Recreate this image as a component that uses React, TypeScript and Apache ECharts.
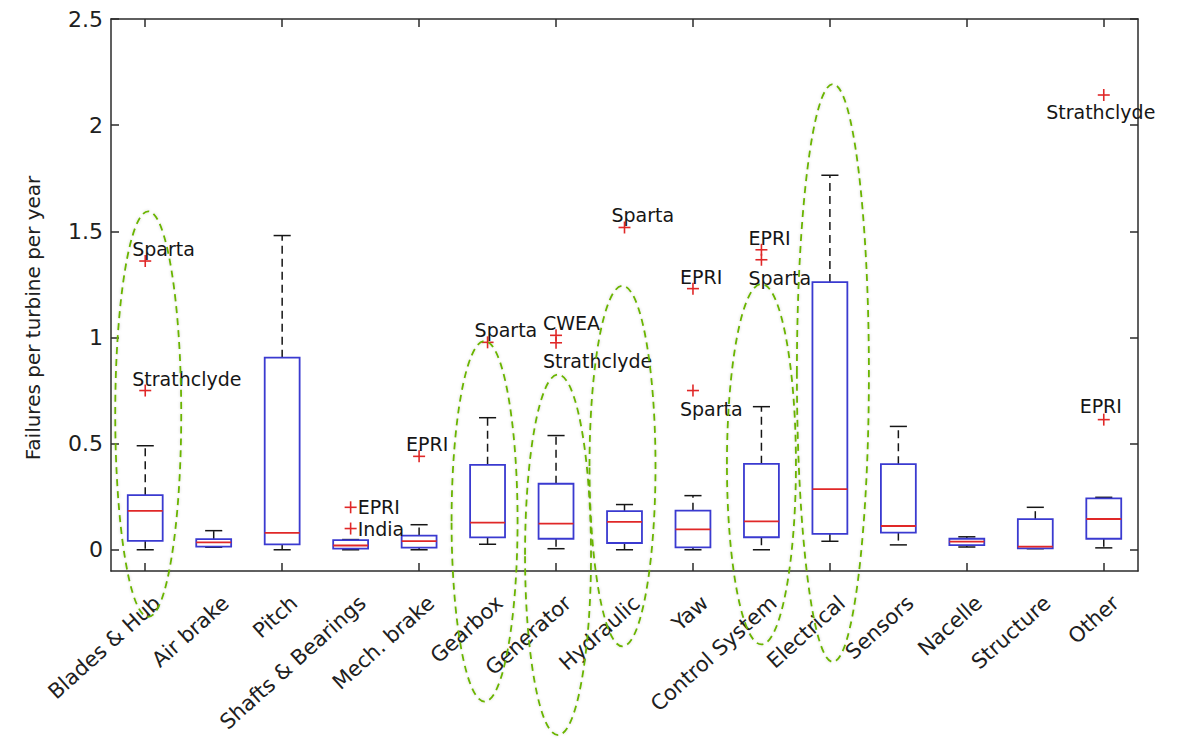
import React, { useEffect, useRef } from 'react';
import * as echarts from 'echarts';

// ---------- data ----------
const categories = [
  'Blades & Hub', 'Air brake', 'Pitch', 'Shafts & Bearings', 'Mech. brake',
  'Gearbox', 'Generator', 'Hydraulic', 'Yaw', 'Control System',
  'Electrical', 'Sensors', 'Nacelle', 'Structure', 'Other',
];

const boxMin = [0.0, 0.012, 0.0, 0.0, 0.0, 0.026, 0.005, 0.0, 0.0, 0.0, 0.04, 0.023, 0.013, 0.005, 0.009];
const boxQ1 = [0.042, 0.015, 0.025, 0.005, 0.01, 0.058, 0.052, 0.032, 0.011, 0.059, 0.075, 0.081, 0.022, 0.007, 0.052];
const boxMedian = [0.183, 0.035, 0.08, 0.02, 0.041, 0.128, 0.123, 0.131, 0.096, 0.134, 0.286, 0.112, 0.038, 0.015, 0.145];
const boxQ3 = [0.257, 0.05, 0.905, 0.045, 0.067, 0.4, 0.311, 0.182, 0.184, 0.405, 1.261, 0.403, 0.052, 0.144, 0.242];
const boxMax = [0.49, 0.09, 1.48, 0.048, 0.118, 0.622, 0.538, 0.213, 0.255, 0.674, 1.764, 0.581, 0.061, 0.2, 0.247];

const outlierCat = [0, 0, 3, 3, 4, 5, 6, 6, 7, 8, 8, 9, 9, 14, 14];
const outlierVal = [1.36, 0.75, 0.2, 0.1, 0.44, 0.977, 1.01, 0.975, 1.518, 1.23, 0.75, 1.413, 1.366, 2.142, 0.613];
const outlierName = ['Sparta', 'Strathclyde', 'EPRI', 'India', 'EPRI', 'Sparta', 'CWEA', 'Strathclyde', 'Sparta', 'EPRI', 'Sparta', 'EPRI', 'Sparta', 'Strathclyde', 'EPRI'];
const outlierSide = ['above', 'above', 'right', 'right', 'above', 'above', 'above', 'below', 'above', 'above', 'below', 'above', 'below', 'below-center', 'above-center'];

const yMin = -0.1;
const yMax = 2.5;
const yTicks = [0, 0.5, 1, 1.5, 2, 2.5];
const yAxisTitle = 'Failures per turbine per year';

// highlighted groups (dashed ellipses): category, top value, bottom value
const ellipseCat = [0, 5, 6, 7, 9, 10];
const ellipseTop = [1.594, 0.983, 0.825, 1.243, 1.252, 2.193];
const ellipseBottom = [-0.316, -0.715, -0.873, -0.455, -0.446, -0.528];

// ---------- styles ----------
const FONT = '"DejaVu Sans", "Liberation Sans", Arial, sans-serif';
const AXIS = '#2b2b2b';
const BLUE = '#3a3ad0';
const RED = '#e02828';
const BLACK = '#161616';
const GREEN = '#6ab400';
const ELLIPSE_SHIFT = [3, -3, 2, -2, 0, 3];
const ELLIPSE_RX = [33, 33, 33, 33, 34.5, 36];

export default function App() {
  const ref = useRef<HTMLDivElement>(null);

  useEffect(() => {
    const chart = echarts.init(ref.current as HTMLDivElement, null, { renderer: 'svg' });

    const boxData = categories.map((_, i) => [i, boxMin[i], boxQ1[i], boxMedian[i], boxQ3[i], boxMax[i]]);
    const outlierData = outlierVal.map((v, i) => [outlierCat[i], v]);
    const ellipseData = ellipseCat.map((c, i) => [c, ellipseTop[i], ellipseBottom[i]]);
    const labelData = categories.map((_, i) => [i, yMin]);

    const axisLine = { show: true, onZero: false, lineStyle: { color: AXIS, width: 1.5 } };
    const tickStyle = { color: AXIS, width: 1.5 };

    const option: any = {
      animation: false,
      backgroundColor: '#ffffff',
      grid: { left: 111, right: 47, top: 19, bottom: 169, containLabel: false },
      graphic: [
        {
          type: 'text',
          x: 33,
          y: 318,
          rotation: Math.PI / 2,
          silent: true,
          style: {
            text: yAxisTitle,
            fill: '#202020',
            fontSize: 20,
            fontFamily: FONT,
            align: 'center',
            verticalAlign: 'middle',
          },
        },
      ],
      xAxis: [
        {
          type: 'category',
          data: categories,
          position: 'bottom',
          axisLine,
          axisTick: { show: true, inside: true, alignWithLabel: true, length: 8, lineStyle: tickStyle },
          axisLabel: { show: false },
          splitLine: { show: false },
        },
        {
          type: 'category',
          data: categories,
          position: 'top',
          axisLine,
          axisTick: { show: true, inside: true, alignWithLabel: true, length: 8, lineStyle: tickStyle },
          axisLabel: { show: false },
          splitLine: { show: false },
        },
      ],
      yAxis: [
        {
          type: 'value',
          min: yMin,
          max: yMax,
          position: 'left',
          axisLine,
          axisTick: { show: true, inside: true, length: 8, customValues: yTicks, lineStyle: tickStyle },
          axisLabel: {
            customValues: yTicks,
            fontSize: 22,
            fontFamily: FONT,
            color: '#202020',
            margin: 8,
            formatter: (v: number) => String(+Number(v).toFixed(2)),
          },
          splitLine: { show: false },
        },
        {
          type: 'value',
          min: yMin,
          max: yMax,
          position: 'right',
          axisLine,
          axisTick: { show: true, inside: true, length: 8, customValues: yTicks, lineStyle: tickStyle },
          axisLabel: { show: false },
          splitLine: { show: false },
        },
      ],
      series: [
        {
          type: 'custom',
          name: 'boxes',
          xAxisIndex: 0,
          yAxisIndex: 0,
          data: boxData,
          renderItem: (params: any, api: any) => {
            const i = api.value(0);
            const x = api.coord([i, api.value(1)])[0];
            const yLo = api.coord([i, api.value(1)])[1];
            const yQ1 = api.coord([i, api.value(2)])[1];
            const yMed = api.coord([i, api.value(3)])[1];
            const yQ3 = api.coord([i, api.value(4)])[1];
            const yHi = api.coord([i, api.value(5)])[1];
            const band = api.size([1, 0])[0];
            const hw = band * 0.255;
            const cw = band * 0.125;
            const dashed = { stroke: BLACK, lineWidth: 1.5, lineDash: [8, 5], fill: null };
            const solid = { stroke: BLACK, lineWidth: 1.5, fill: null };
            return {
              type: 'group',
              children: [
                { type: 'line', shape: { x1: x, y1: yQ3, x2: x, y2: yHi }, style: dashed },
                { type: 'line', shape: { x1: x, y1: yQ1, x2: x, y2: yLo }, style: dashed },
                { type: 'line', shape: { x1: x - cw, y1: yHi, x2: x + cw, y2: yHi }, style: solid },
                { type: 'line', shape: { x1: x - cw, y1: yLo, x2: x + cw, y2: yLo }, style: solid },
                {
                  type: 'rect',
                  shape: { x: x - hw, y: yQ3, width: 2 * hw, height: Math.max(yQ1 - yQ3, 1) },
                  style: { fill: '#ffffff', stroke: BLUE, lineWidth: 1.8 },
                },
                { type: 'line', shape: { x1: x - hw, y1: yMed, x2: x + hw, y2: yMed }, style: { stroke: RED, lineWidth: 1.8 } },
              ],
            };
          },
        },
        {
          type: 'custom',
          name: 'outliers',
          xAxisIndex: 0,
          yAxisIndex: 0,
          data: outlierData,
          z: 5,
          renderItem: (params: any, api: any) => {
            const idx = params.dataIndex;
            const p = api.coord([api.value(0), api.value(1)]);
            const x = p[0];
            const y = p[1];
            const s = 6;
            const side = outlierSide[idx];
            let tx = x - 13;
            let ty = y - 12;
            let align = 'left';
            if (side === 'below') ty = y + 18;
            if (side === 'right') {
              tx = x + 7;
              ty = y;
            }
            if (side === 'below-center') {
              tx = x - 3;
              ty = y + 17;
              align = 'center';
            }
            if (side === 'above-center') {
              tx = x - 3;
              ty = y - 14;
              align = 'center';
            }
            return {
              type: 'group',
              children: [
                { type: 'line', shape: { x1: x - s, y1: y, x2: x + s, y2: y }, style: { stroke: RED, lineWidth: 1.6 } },
                { type: 'line', shape: { x1: x, y1: y - s, x2: x, y2: y + s }, style: { stroke: RED, lineWidth: 1.6 } },
                {
                  type: 'text',
                  x: tx,
                  y: ty,
                  style: {
                    text: outlierName[idx],
                    fill: BLACK,
                    fontSize: 19,
                    fontFamily: FONT,
                    align,
                    verticalAlign: 'middle',
                  },
                },
              ],
            };
          },
        },
        {
          type: 'custom',
          name: 'categoryLabels',
          xAxisIndex: 0,
          yAxisIndex: 0,
          data: labelData,
          clip: false,
          silent: true,
          renderItem: (params: any, api: any) => {
            const idx = params.dataIndex;
            const p = api.coord([api.value(0), api.value(1)]);
            return {
              type: 'text',
              x: p[0] + 5,
              y: p[1] + 21,
              rotation: (Math.PI * 42) / 180,
              style: {
                text: categories[idx],
                fill: '#202020',
                fontSize: 21,
                fontFamily: FONT,
                align: 'right',
                verticalAlign: 'top',
              },
            };
          },
        },
        {
          type: 'custom',
          name: 'highlight',
          xAxisIndex: 0,
          yAxisIndex: 0,
          data: ellipseData,
          z: 10,
          clip: false,
          silent: true,
          renderItem: (params: any, api: any) => {
            const idx = params.dataIndex;
            const top = api.coord([api.value(0), api.value(1)]);
            const bot = api.coord([api.value(0), api.value(2)]);
            return {
              type: 'ellipse',
              shape: {
                cx: top[0] + ELLIPSE_SHIFT[idx],
                cy: (top[1] + bot[1]) / 2,
                rx: ELLIPSE_RX[idx],
                ry: Math.abs(bot[1] - top[1]) / 2,
              },
              style: {
                fill: null,
                stroke: GREEN,
                lineWidth: 1.8,
                lineDash: [7, 5],
                shadowColor: 'rgba(0,0,0,0.18)',
                shadowBlur: 3,
              },
            };
          },
        },
      ],
    };

    chart.setOption(option);
    return () => chart.dispose();
  }, []);

  return (
    <div
      ref={ref}
      style={{ position: 'fixed', left: 0, top: 0, width: 1185, height: 740, background: '#ffffff' }}
    />
  );
}
